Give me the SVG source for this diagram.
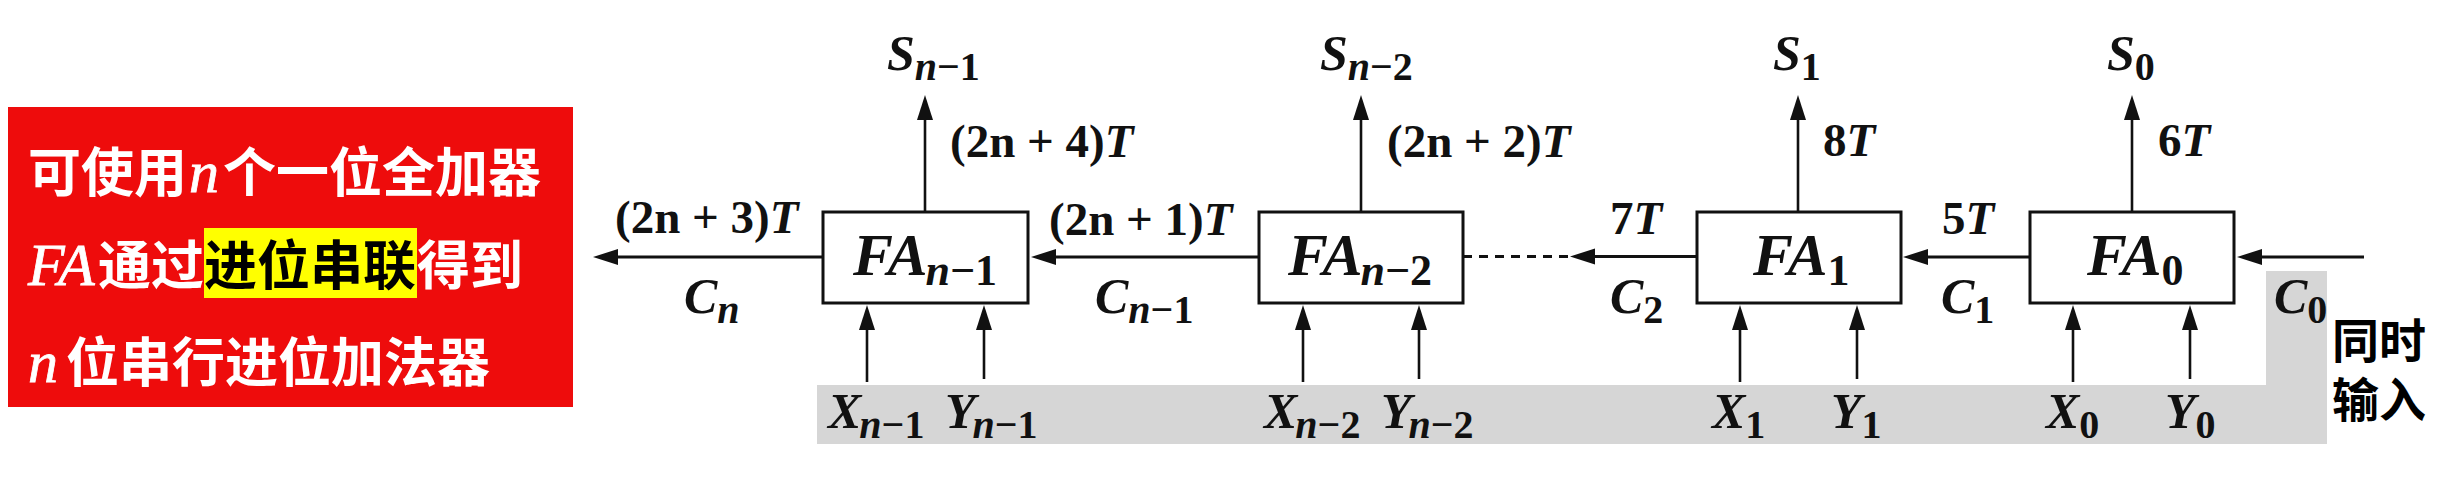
<svg xmlns="http://www.w3.org/2000/svg" width="2448" height="491" viewBox="0 0 2448 491">
<defs>
<marker id="ah" markerUnits="userSpaceOnUse" markerWidth="26" markerHeight="18" refX="15" refY="8" orient="auto"><path d="M0,0 L25,8 L0,16 z" fill="#111"/></marker>
</defs>
<style>
text{font-family:"Liberation Serif",serif;font-weight:bold;fill:#111}
.m{font-size:50px;font-style:italic}
.s{font-size:40px;font-style:italic}
.t{font-size:47px;font-style:normal}
.i{font-style:italic}
.fa{font-size:60px;font-style:italic}
.fs{font-size:44px;font-style:italic}
.u{font-style:normal}
.cjk{font-family:"Noto Sans CJK SC","Liberation Sans",sans-serif;font-size:53px;font-weight:bold}
.w{fill:#fff}
.ni{font-family:"Liberation Serif",serif;font-style:italic;font-weight:normal;font-size:60px;fill:#fff;stroke:#fff;stroke-width:.8}
.box{fill:#fff;stroke:#111;stroke-width:3}
.c{stroke:#111;stroke-width:3;fill:none;marker-end:url(#ah)}
.v{stroke:#111;stroke-width:2.6;fill:none;marker-end:url(#ah)}
</style>
<rect width="2448" height="491" fill="#fff"/>
<g id="note">
<rect x="8" y="107" width="565" height="300" fill="#ee0c0c"/>
<rect x="204" y="228" width="213" height="70" fill="#ffff00"/>
<text class="cjk w" x="28" y="192">可使用</text><text class="ni" x="189" y="192">n</text><text class="cjk w" x="223" y="192">个一位全加器</text>
<text class="ni" x="28" y="285" letter-spacing="1">FA</text><text class="cjk w" x="98" y="285">通过</text><text class="cjk" x="204" y="285" style="fill:#000">进位串联</text><text class="cjk w" x="417" y="285">得到</text>
<text class="ni" x="28" y="382">n</text><text class="cjk w" x="66" y="382">位串行进位加法器</text>
</g>
<g id="input-band"><path d="M817,385 H2266 V271 H2327 V444 H817 z" fill="#d6d6d6"/></g>
<g id="connectors">
<line class="c" x1="823" y1="257" x2="603" y2="257"/>
<line class="c" x1="1259" y1="257" x2="1041" y2="257"/>
<line x1="1463" y1="256.5" x2="1570" y2="256.5" stroke="#111" stroke-width="3" stroke-dasharray="9 7"/>
<line class="c" x1="1697" y1="256.5" x2="1580" y2="256.5"/>
<line class="c" x1="2030" y1="257" x2="1913" y2="257"/>
<line class="c" x1="2364" y1="257" x2="2247" y2="257"/>
<line class="v" x1="925" y1="212" x2="925" y2="105"/>
<line class="v" x1="1361" y1="212" x2="1361" y2="105"/>
<line class="v" x1="1798" y1="212" x2="1798" y2="105"/>
<line class="v" x1="2132" y1="212" x2="2132" y2="105"/>
<line class="v" x1="867" y1="382" x2="867" y2="315"/>
<line class="v" x1="984" y1="379" x2="984" y2="315"/>
<line class="v" x1="1303" y1="382" x2="1303" y2="315"/>
<line class="v" x1="1419" y1="379" x2="1419" y2="315"/>
<line class="v" x1="1740" y1="382" x2="1740" y2="315"/>
<line class="v" x1="1857" y1="379" x2="1857" y2="315"/>
<line class="v" x1="2073" y1="382" x2="2073" y2="315"/>
<line class="v" x1="2190" y1="379" x2="2190" y2="315"/>
</g>
<g id="fa-n-1"><rect class="box" x="823" y="212" width="205" height="91"/><text class="fa" x="853" y="275">FA<tspan class="fs" dy="10" dx="-2">n<tspan class="u">−1</tspan></tspan></text></g>
<g id="fa-n-2"><rect class="box" x="1259" y="212" width="204" height="91"/><text class="fa" x="1288" y="275">FA<tspan class="fs" dy="10" dx="-2">n<tspan class="u">−2</tspan></tspan></text></g>
<g id="fa-1"><rect class="box" x="1697" y="212" width="204" height="91"/><text class="fa" x="1753" y="275">FA<tspan class="fs u" dy="10">1</tspan></text></g>
<g id="fa-0"><rect class="box" x="2030" y="212" width="204" height="91"/><text class="fa" x="2087" y="275">FA<tspan class="fs u" dy="10">0</tspan></text></g>
<g id="labels">
<text class="m" x="887" y="70">S<tspan class="s" dy="10">n<tspan class="u">−1</tspan></tspan></text>
<text class="m" x="1320" y="70">S<tspan class="s" dy="10">n<tspan class="u">−2</tspan></tspan></text>
<text class="m" x="1773" y="70">S<tspan class="s u" dy="10">1</tspan></text>
<text class="m" x="2107" y="70">S<tspan class="s u" dy="10">0</tspan></text>
<text class="t" x="950" y="157">(2n + 4)<tspan class="i">T</tspan></text>
<text class="t" x="1387" y="157">(2n + 2)<tspan class="i">T</tspan></text>
<text class="t" x="1823" y="156">8<tspan class="i">T</tspan></text>
<text class="t" x="2158" y="156">6<tspan class="i">T</tspan></text>
<text class="t" x="615" y="233">(2n + 3)<tspan class="i">T</tspan></text>
<text class="t" x="1049" y="235">(2n + 1)<tspan class="i">T</tspan></text>
<text class="t" x="1610" y="234">7<tspan class="i">T</tspan></text>
<text class="t" x="1942" y="234">5<tspan class="i">T</tspan></text>
<text class="m" x="684" y="313">C<tspan class="s" dy="10">n</tspan></text>
<text class="m" x="1095" y="313">C<tspan class="s" dy="10">n<tspan class="u">−1</tspan></tspan></text>
<text class="m" x="1610" y="313">C<tspan class="s u" dy="10">2</tspan></text>
<text class="m" x="1941" y="313">C<tspan class="s u" dy="10">1</tspan></text>
<text class="m" x="2274" y="313">C<tspan class="s u" dy="10">0</tspan></text>
<text class="m" x="828" y="428">X<tspan class="s" dy="10" dx="-2">n<tspan class="u">−1</tspan></tspan></text>
<text class="m" x="945" y="428">Y<tspan class="s" dy="10" dx="-3">n<tspan class="u">−1</tspan></tspan></text>
<text class="m" x="1264" y="428">X<tspan class="s" dy="10" dx="-2">n<tspan class="u">−2</tspan></tspan></text>
<text class="m" x="1381" y="428">Y<tspan class="s" dy="10" dx="-3">n<tspan class="u">−2</tspan></tspan></text>
<text class="m" x="1712" y="428">X<tspan class="s u" dy="10">1</tspan></text>
<text class="m" x="1831" y="428">Y<tspan class="s u" dy="10">1</tspan></text>
<text class="m" x="2046" y="428">X<tspan class="s u" dy="10">0</tspan></text>
<text class="m" x="2165" y="428">Y<tspan class="s u" dy="10">0</tspan></text>
<text class="cjk" x="2332" y="358" style="font-size:47px;fill:#000">同时</text>
<text class="cjk" x="2332" y="417" style="font-size:47px;fill:#000">输入</text>
</g>
</svg>
